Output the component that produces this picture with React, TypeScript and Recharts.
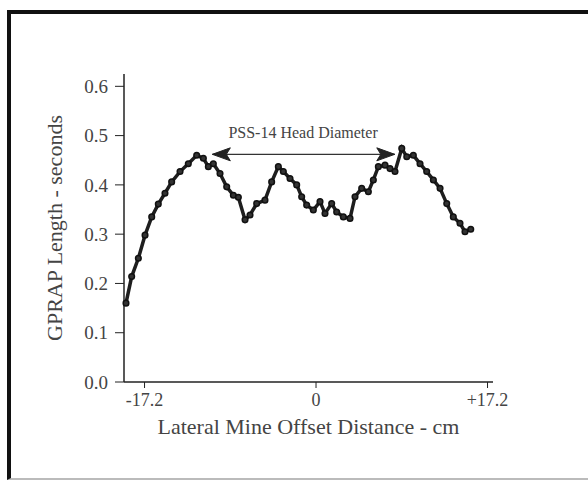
import {
  LineChart,
  Line,
  XAxis,
  YAxis,
  ReferenceLine,
  ReferenceDot,
} from "recharts";

// lateral offset (cm) and GPRAP length (s)
const offsets = [
  -19.06, -18.49, -17.82, -17.15, -16.48, -15.82, -15.15, -14.48, -13.64, -12.81,
  -11.97, -11.3, -10.8, -10.3, -9.63, -8.96, -8.29, -7.79, -7.12, -6.62,
  -5.95, -5.12, -4.45, -3.78, -3.28, -2.61, -1.94, -1.44, -0.94, -0.27,
  0.4, 0.9, 1.57, 2.07, 2.74, 3.41, 3.91, 4.58, 5.25, 5.75,
  6.25, 6.92, 7.42, 7.92, 8.6, 9.1, 9.76, 10.43, 11.1, 11.77,
  12.44, 13.11, 13.77, 14.44, 14.94, 15.52,
];
const lengths = [
  0.16, 0.214, 0.251, 0.298, 0.335, 0.361, 0.383, 0.406, 0.427, 0.443,
  0.46, 0.454, 0.437, 0.443, 0.423, 0.396, 0.379, 0.375, 0.329, 0.339,
  0.362, 0.369, 0.406, 0.437, 0.427, 0.413, 0.4, 0.376, 0.359, 0.349,
  0.366, 0.342, 0.362, 0.345, 0.335, 0.332, 0.376, 0.393, 0.386, 0.41,
  0.437, 0.44, 0.433, 0.427, 0.474, 0.457, 0.46, 0.443, 0.427, 0.41,
  0.393, 0.362, 0.335, 0.322, 0.305, 0.31,
];
const xTicks = [-17.2, 0, 17.2];
const yTicks = [0, 0.1, 0.2, 0.3, 0.4, 0.5, 0.6];

// "PSS-14 Head Diameter" arrow
const arrowFrom = -10.4;
const arrowTo = 7.9;
const arrowLevel = 0.462;
const noteX = -1.3;
const noteY = 0.503;

const data = offsets.map((x, i) => ({ x, y: lengths[i] }));

const FONT = '"Liberation Serif", "Times New Roman", serif';
const INK = "#444";

const ArrowHead = ({ cx, cy, dir }: any) => {
  const len = 18;
  const half = 6.5;
  const d =
    dir < 0
      ? `M${cx},${cy} L${cx + len},${cy - half} L${cx + len - 4},${cy} L${cx + len},${cy + half} Z`
      : `M${cx},${cy} L${cx - len},${cy - half} L${cx - len + 4},${cy} L${cx - len},${cy + half} Z`;
  return <path d={d} fill="#222" stroke="#222" strokeWidth={1} />;
};

const Note = ({ cx, cy }: any) => (
  <text x={cx} y={cy} textAnchor="middle" dominantBaseline="middle" fontSize={16} fill={INK} fontFamily={FONT}>
    PSS-14 Head Diameter
  </text>
);

export default function App() {
  return (
    <div style={{ position: "absolute", left: 0, top: 0, width: 588, height: 482, background: "#fff" }}>
      <div
        style={{
          position: "absolute",
          left: 7,
          top: 10,
          width: 600,
          height: 464,
          borderTop: "4px solid #111",
          borderLeft: "4px solid #111",
          borderBottom: "2px solid #bbb",
        }}
      />
      <LineChart
        width={588}
        height={482}
        data={data}
        margin={{ top: 74, right: 95, left: 44, bottom: 70 }}
        style={{ fontFamily: FONT, position: "absolute", left: 0, top: 0 }}
      >
        <XAxis
          dataKey="x"
          type="number"
          domain={[-19.26, 17.75]}
          ticks={xTicks}
          tickFormatter={(v) => (v > 0 ? `+${v}` : `${v}`)}
          height={30}
          tickSize={6}
          tickMargin={5}
          tick={{ fontSize: 18, fill: INK, fontFamily: FONT }}
          axisLine={{ stroke: "#222", strokeWidth: 1.5 }}
          tickLine={{ stroke: "#222" }}
          label={{ value: "Lateral Mine Offset Distance - cm", position: "bottom", offset: 6, fontSize: 22, fill: INK, fontFamily: FONT }}
        />
        <YAxis
          type="number"
          domain={[0, 0.625]}
          ticks={yTicks}
          tickFormatter={(v) => v.toFixed(1)}
          width={80}
          tickSize={9}
          tickMargin={7}
          tick={{ fontSize: 19, fill: INK, fontFamily: FONT }}
          axisLine={{ stroke: "#222", strokeWidth: 1.5 }}
          tickLine={{ stroke: "#222" }}
          label={{
            value: "GPRAP Length - seconds",
            angle: -90,
            position: "insideLeft",
            offset: 10,
            fontSize: 22,
            fill: INK,
            fontFamily: FONT,
            style: { textAnchor: "middle" },
          }}
        />
        <ReferenceLine
          segment={[
            { x: arrowFrom, y: arrowLevel },
            { x: arrowTo, y: arrowLevel },
          ]}
          stroke="#333"
          strokeWidth={1.2}
        />
        <ReferenceDot x={arrowFrom} y={arrowLevel} shape={(p: any) => <ArrowHead {...p} dir={-1} />} />
        <ReferenceDot x={arrowTo} y={arrowLevel} shape={(p: any) => <ArrowHead {...p} dir={1} />} />
        <ReferenceDot x={noteX} y={noteY} shape={(p: any) => <Note {...p} />} />
        <Line
          type="linear"
          dataKey="y"
          stroke="#1e1e1e"
          strokeWidth={3.5}
          dot={{ r: 2.8, fill: "#333", stroke: "#111", strokeWidth: 1.5 }}
          isAnimationActive={false}
        />
      </LineChart>
    </div>
  );
}
